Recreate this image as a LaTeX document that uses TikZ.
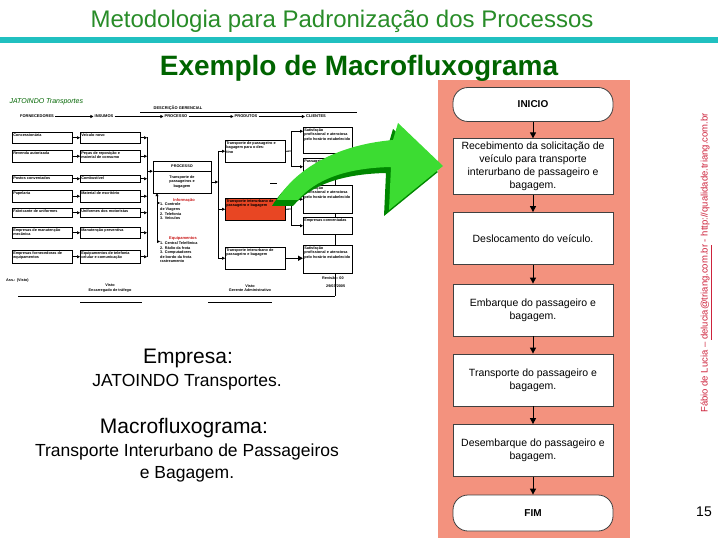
\documentclass[tikz,border=0pt]{standalone}
\usepackage{fontspec}
\setmainfont{Liberation Sans}
\usetikzlibrary{arrows.meta}
\definecolor{titlegreen}{RGB}{40,140,40}
\definecolor{headgreen}{RGB}{0,100,0}
\definecolor{barteal}{RGB}{32,192,192}
\definecolor{salmonbg}{RGB}{243,146,126}
\definecolor{arrowlight}{RGB}{60,220,50}
\definecolor{arrowdark}{RGB}{0,135,0}
\definecolor{sigred}{RGB}{205,35,60}
\definecolor{prodred}{RGB}{232,70,35}
\definecolor{resred}{RGB}{200,20,20}
\newcommand{\tinyf}{\fontsize{3.8}{4.6}\selectfont\bfseries}
\newcommand{\cellt}[3]{\parbox[t][#2pt][t]{#1pt}{#3}}
\tikzset{
  flowbox/.style={draw=black!75, fill=white, line width=0.8pt, minimum width=160pt, minimum height=52pt, align=center, font=\fontsize{10.5}{13}\selectfont},
  flowend/.style={flowbox, rounded corners=15pt, minimum height=34pt, font=\fontsize{10}{12}\selectfont\bfseries},
  flowarrow/.style={-{Triangle[length=6pt,width=6pt]}, line width=1pt},
  cell/.style={draw, line width=0.5pt, inner sep=1pt, anchor=north west, font=\tinyf},
  tinyarrow/.style={-{Triangle[length=3pt,width=3pt]}, line width=0.6pt},
  hdr/.style={font=\fontsize{4}{4.5}\selectfont\bfseries, inner sep=1pt},
  restitle/.style={font=\fontsize{4}{4.5}\selectfont\bfseries, text=resred, inner sep=0pt},
  reslist/.style={font=\tinyf, align=left, anchor=north west, inner sep=0pt},
}
\begin{document}
\begin{tikzpicture}[x=1pt, y=-1pt]
  \useasboundingbox (0,0) rectangle (720,540);
  % titles
  \node[text=titlegreen, font=\fontsize{24}{28}\selectfont] (title) at (342,21) {Metodologia para Padronização dos Processos};
  \fill[barteal] (0,37.5) rectangle (718,43);
  \fill[salmonbg] (438,80) rectangle (630,538);
  \node[text=headgreen, font=\fontsize{28}{32}\selectfont\bfseries] (subtitle) at (359,68) {Exemplo de Macrofluxograma};
  % macrofluxograma (miniature)
  \node[text=headgreen, font=\fontsize{7}{8}\selectfont\itshape, anchor=west] (firm) at (6,102) {JATOINDO Transportes};
  \node[hdr] (desc) at (178,108.5) {DESCRIÇÃO GERENCIAL};
  \coordinate (descL) at (140,112);
  \coordinate (descR) at (357,112);
  \draw[line width=0.6pt] (descL) -- (descR);
  \node[hdr] (hforn) at (37,116.5) {FORNECEDORES};
  \node[hdr] (hins) at (104,116.5) {INSUMOS};
  \node[hdr] (hproc) at (176,116.5) {PROCESSO};
  \node[hdr] (hprod) at (246,116.5) {PRODUTOS};
  \node[hdr] (hcli) at (316,116.5) {CLIENTES};
  \draw[tinyarrow] (hforn) -- (hins);
  \draw[tinyarrow] (hins) -- (hproc);
  \draw[tinyarrow] (hproc) -- (hprod);
  \draw[tinyarrow] (hprod) -- (hcli);
  % fornecedores e insumos
  \coordinate (busAtop) at (147,137);
  \coordinate (busAbot) at (147,257);
  \draw[line width=0.8pt] (busAtop) -- (busAbot);
  \foreach \y/\h/\forn/\ins [count=\i] in {
      132/9/Concessionária/Veículo novo,
      150/10/Revenda autorizada/{Peças de reposição e\\material de consumo},
      175/5/Postos conveniados/Combustível,
      190/10/Papelaria/Material de escritório,
      208/7/Fabricante de uniformes/Uniformes dos motoristas,
      227/9/{Empresas de manutenção\\mecânica}/Manutenção preventiva,
      250/11/{Empresas fornecedoras de\\equipamentos}/{Equipamentos de telefonia\\celular e comunicação}} {
    \node[cell] (forn\i) at (12,\y) {\cellt{58}{\h}{\forn}};
    \node[cell] (ins\i) at (80,\y) {\cellt{58}{\h}{\ins}};
    \draw[tinyarrow] (forn\i) -- (ins\i);
    \draw[tinyarrow] (ins\i.east) -- (ins\i.east -| busAtop);
  }
  % processo
  \node[draw, line width=0.5pt, minimum width=58pt, minimum height=10pt, inner sep=0pt, font=\tinyf] (proch) at (182,166) {PROCESSO};
  \node[draw, line width=0.5pt, minimum width=58pt, minimum height=22pt, inner sep=0pt, align=center, font=\tinyf] (proc) at (182,182) {Transporte de\\passageiros e\\bagagem};
  \draw[tinyarrow] (proch.south west -| busAtop) -- (proch.south west);
  % recursos
  \coordinate (resbot) at (157,241);
  \draw[tinyarrow, line width=0.8pt] (resbot) -- (resbot |- proc.south);
  \node[restitle] (info) at (184,200) {Informação};
  \node[reslist] (infolist) at (160,203) {1. Controle\\de Viagens\\2. Telefonia\\3. Veículos};
  \draw[tinyarrow] (infolist.north west -| resbot) -- (infolist.north west);
  \node[restitle] (equip) at (183,238) {Equipamentos};
  \node[reslist] (equiplist) at (160,241.5) {1. Central Telefônica\\2. Rádio da frota\\3. Computadores\\de bordo da frota\\rastreamento};
  \draw[tinyarrow] (equiplist.north west -| resbot) -- (equiplist.north west);
  % produtos
  \coordinate (busBtop) at (218,151);
  \coordinate (busBbot) at (218,258);
  \draw[line width=0.8pt] (busBtop) -- (busBbot);
  \draw[tinyarrow] (proc.east) -- (proc.east -| busBtop);
  \node[cell] (prod1) at (225,140) {\cellt{58}{20}{Transporte de passageiro e\\bagagem para o des-\\tino}};
  \node[cell, fill=prodred] (prod2) at (225,198) {\cellt{58}{20}{Transporte interurbano de\\passageiro e bagagem}};
  \node[cell] (prod3) at (225,247) {\cellt{58}{20}{Transporte interurbano de\\passageiro e bagagem}};
  \foreach \p in {prod1,prod2,prod3}
    \draw[tinyarrow] (\p.west -| busBtop) -- (\p.west);
  % clientes
  \node[cell] (cli1) at (303,127) {\cellt{47}{24}{Satisfação\\profissional e atenciosa\\pelo horário estabelecido}};
  \node[cell] (cli2) at (303,158) {\cellt{47}{15}{Passageiros}};
  \node[cell] (cli3) at (303,185) {\cellt{47}{26}{Satisfação\\profissional e atenciosa\\pelo horário estabelecido}};
  \node[cell] (cli4) at (303,217) {\cellt{47}{15}{Empresas conveniadas}};
  \node[cell] (cli5) at (303,245) {\cellt{47}{26}{Satisfação\\profissional e atenciosa\\pelo horário estabelecido}};
  \coordinate (brA) at (291,151);
  \coordinate (brB) at (291,209);
  \draw[line width=0.8pt] (prod1.east) -- (brA);
  \draw[tinyarrow, line width=0.8pt] (brA) |- (cli1.160);
  \draw[tinyarrow, line width=0.8pt] (brA) |- (cli2.west);
  \draw[line width=0.8pt] (prod2.east) -- (brB);
  \draw[tinyarrow, line width=0.8pt] (brB) |- (cli3.west);
  \draw[tinyarrow, line width=0.8pt] (brB) |- (cli4.west);
  \draw[-{Triangle[length=5pt,width=5pt]}, line width=1.2pt] (prod3.east) -- (prod3.east -| cli5.west);
  \coordinate (link) at (335,296);
  \draw[line width=0.5pt] (cli2.south -| link) -- (cli3.north -| link);
  \draw[line width=0.5pt] (cli3.south -| link) -- (cli4.north -| link);
  \draw[line width=0.5pt] (cli4.south -| link) -- (cli5.north -| link);
  \draw[line width=0.5pt] (cli5.south -| link) -- (link);
  \draw[line width=0.5pt] (270,183) -- (277,183);
  % rodape
  \node[font=\tinyf, anchor=west, inner sep=0pt] (rev) at (322,278.5) {Revisão: 00};
  \node[font=\tinyf, anchor=west, inner sep=0pt] (revdate) at (326,286.5) {29/03/2005};
  \node[font=\tinyf, anchor=west, inner sep=0pt] (aprov) at (6,280.5) {Ass.: (Visto)};
  \node[font=\tinyf, align=center, inner sep=0pt] (sign1) at (110,288) {Visto\\Encarregado de tráfego};
  \node[font=\tinyf, align=center, inner sep=0pt] (sign2) at (250,288) {Visto\\Gerente Administrativo};
  \coordinate (ruleL) at (18,296);
  \draw[line width=0.6pt] (ruleL) -- (link);
  \coordinate (sigAL) at (80,302);
  \coordinate (sigAR) at (142,302);
  \coordinate (sigBL) at (208,302);
  \coordinate (sigBR) at (272,302);
  \draw[line width=0.5pt] (sigAL) -- (sigAR);
  \draw[line width=0.5pt] (sigBL) -- (sigBR);
  % seta verde
  \fill[arrowdark, shift={(-5,6)}] (277,200) .. controls (295,170) and (335,145) .. (393,140) -- (398,123) -- (443,166) -- (389,210) -- (391,167) .. controls (345,168) and (315,180) .. (298,200) -- cycle;
  \fill[arrowlight] (277,200) .. controls (295,170) and (335,145) .. (393,140) -- (398,123) -- (443,166) -- (389,210) -- (391,167) .. controls (345,168) and (315,180) .. (298,200) -- cycle;
  % fluxograma
  \node[flowend] (inicio) at (533,104.5) {INICIO};
  \node[flowbox] (receb) at (533,166.5) {Recebimento da solicitação de\\veículo para transporte\\interurbano de passageiro e\\bagagem.};
  \node[flowbox] (desloc) at (533,238.5) {Deslocamento do veículo.};
  \node[flowbox] (embarq) at (533,310) {Embarque do passageiro e\\bagagem.};
  \node[flowbox] (transp) at (533,380) {Transporte do passageiro e\\bagagem.};
  \node[flowbox] (desemb) at (533,450.5) {Desembarque do passageiro e\\bagagem.};
  \node[flowend, minimum height=36pt] (fim) at (533,513) {FIM};
  \draw[flowarrow] (inicio) -- (receb);
  \draw[flowarrow] (receb) -- (desloc);
  \draw[flowarrow] (desloc) -- (embarq);
  \draw[flowarrow] (embarq) -- (transp);
  \draw[flowarrow] (transp) -- (desemb);
  \draw[flowarrow] (desemb) -- (fim);
  % textos
  \node[font=\fontsize{21}{25}\selectfont] (empresa) at (188,358) {Empresa:};
  \node[font=\fontsize{17.5}{21}\selectfont] (empnome) at (187,382) {JATOINDO Transportes.};
  \node[font=\fontsize{21}{25}\selectfont] (macro) at (184,428) {Macrofluxograma:};
  \node[font=\fontsize{17.5}{22}\selectfont, align=center] (macronome) at (187,463) {Transporte Interurbano de Passageiros\\e Bagagem.};
  \node[rotate=90, text=sigred, font=\fontsize{9.5}{11}\selectfont] (credit) at (706,263) {Fábio de Lucia – \underline{delucia@triang.com.br} - http://qualidade.triang.com.br};
  \node[font=\fontsize{14}{16}\selectfont] (pagina) at (704,512) {15};
\end{tikzpicture}
\end{document}
